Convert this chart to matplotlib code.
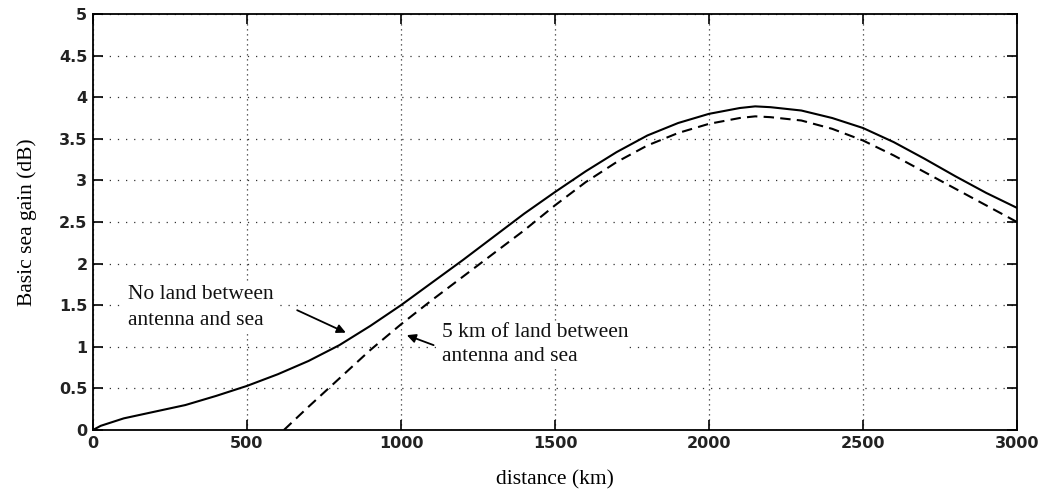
import matplotlib.pyplot as plt

# DATA

# Solid curve: no land between antenna and sea
dist_solid = [0, 25, 50, 100, 150, 200, 300, 400, 500, 600, 700, 800, 900, 1000, 1100, 1200,
              1300, 1400, 1500, 1600, 1700, 1800, 1900, 2000, 2100, 2150, 2200, 2300,
              2400, 2500, 2600, 2700, 2800, 2900, 3000]
gain_solid = [0, 0.05, 0.08, 0.14, 0.18, 0.22, 0.30, 0.41, 0.53, 0.67, 0.83, 1.02, 1.25, 1.50,
              1.77, 2.04, 2.32, 2.60, 2.86, 3.11, 3.34, 3.54, 3.69, 3.80, 3.87, 3.89, 3.88, 3.84,
              3.75, 3.63, 3.46, 3.26, 3.05, 2.85, 2.67]

# Dashed curve: 5 km of land between antenna and sea
dist_dashed = [620, 700, 800, 900, 1000, 1100, 1200, 1300, 1400, 1500, 1600, 1700, 1800,
               1900, 2000, 2100, 2150, 2200, 2300, 2400, 2500, 2600, 2700, 2800, 2900, 3000]
gain_dashed = [0, 0.28, 0.62, 0.96, 1.27, 1.56, 1.84, 2.12, 2.40, 2.70, 2.98, 3.22, 3.42,
               3.57, 3.68, 3.75, 3.77, 3.76, 3.72, 3.62, 3.48, 3.30, 3.10, 2.90, 2.70, 2.50]

x_ticks = [0, 500, 1000, 1500, 2000, 2500, 3000]
y_ticks = [0, 0.5, 1, 1.5, 2, 2.5, 3, 3.5, 4, 4.5, 5]
y_tick_labels = ['0', '0.5', '1', '1.5', '2', '2.5', '3', '3.5', '4', '4.5', '5']

serif = ['Liberation Serif', 'DejaVu Serif']

# PLOT

fig = plt.figure(figsize=(10.48, 4.95), dpi=100)
ax = fig.add_axes([0.0887, 0.1313, 0.8817, 0.8404])

ax.plot(dist_solid, gain_solid, color='black', lw=1.5, zorder=3)
ax.plot(dist_dashed, gain_dashed, color='black', lw=1.5, dashes=(5, 3), zorder=3)

ax.set_xlim(0, 3000)
ax.set_ylim(0, 5)
ax.set_xticks(x_ticks)
ax.set_yticks(y_ticks)
ax.set_yticklabels(y_tick_labels)

# MATLAB style: inward ticks on all sides, dotted grid
ax.tick_params(direction='in', length=7, width=1.2, top=True, right=True,
               labelsize=11.5, pad=4)
for lab in ax.get_xticklabels() + ax.get_yticklabels():
    lab.set_fontweight('bold')
    lab.set_color('#222222')
ax.xaxis.grid(True, color='#333333', lw=0.9, linestyle=(0, (1, 3)))
ax.yaxis.grid(True, color='#333333', lw=0.9, linestyle=(0, (1, 5.5)))
ax.set_axisbelow(True)
for s in ax.spines.values():
    s.set_linewidth(1.3)

ax.set_xlabel('distance (km)', family=serif, fontsize=15.5, labelpad=14)
ax.set_ylabel('Basic sea gain (dB)', family=serif, fontsize=15.5, labelpad=16)

# Annotations
arrow = dict(arrowstyle='-|>', color='black', lw=1.3, mutation_scale=13, shrinkA=0, shrinkB=0)

ax.text(113, 1.74, 'No land between\nantenna and sea', fontsize=15.5, family=serif,
        ha='left', va='top', linespacing=1.45, color='#111111', zorder=4,
        bbox=dict(facecolor='white', edgecolor='none', pad=1))
ax.annotate('', xy=(821, 1.17), xytext=(663, 1.44), arrowprops=arrow)

ax.text(1132, 1.29, '5 km of land between\nantenna and sea', fontsize=15.5, family=serif,
        ha='left', va='top', linespacing=1.35, color='#111111', zorder=4,
        bbox=dict(facecolor='white', edgecolor='none', pad=1))
ax.annotate('', xy=(1019, 1.14), xytext=(1106, 1.02), arrowprops=arrow)

plt.savefig('out.png', dpi=100)
